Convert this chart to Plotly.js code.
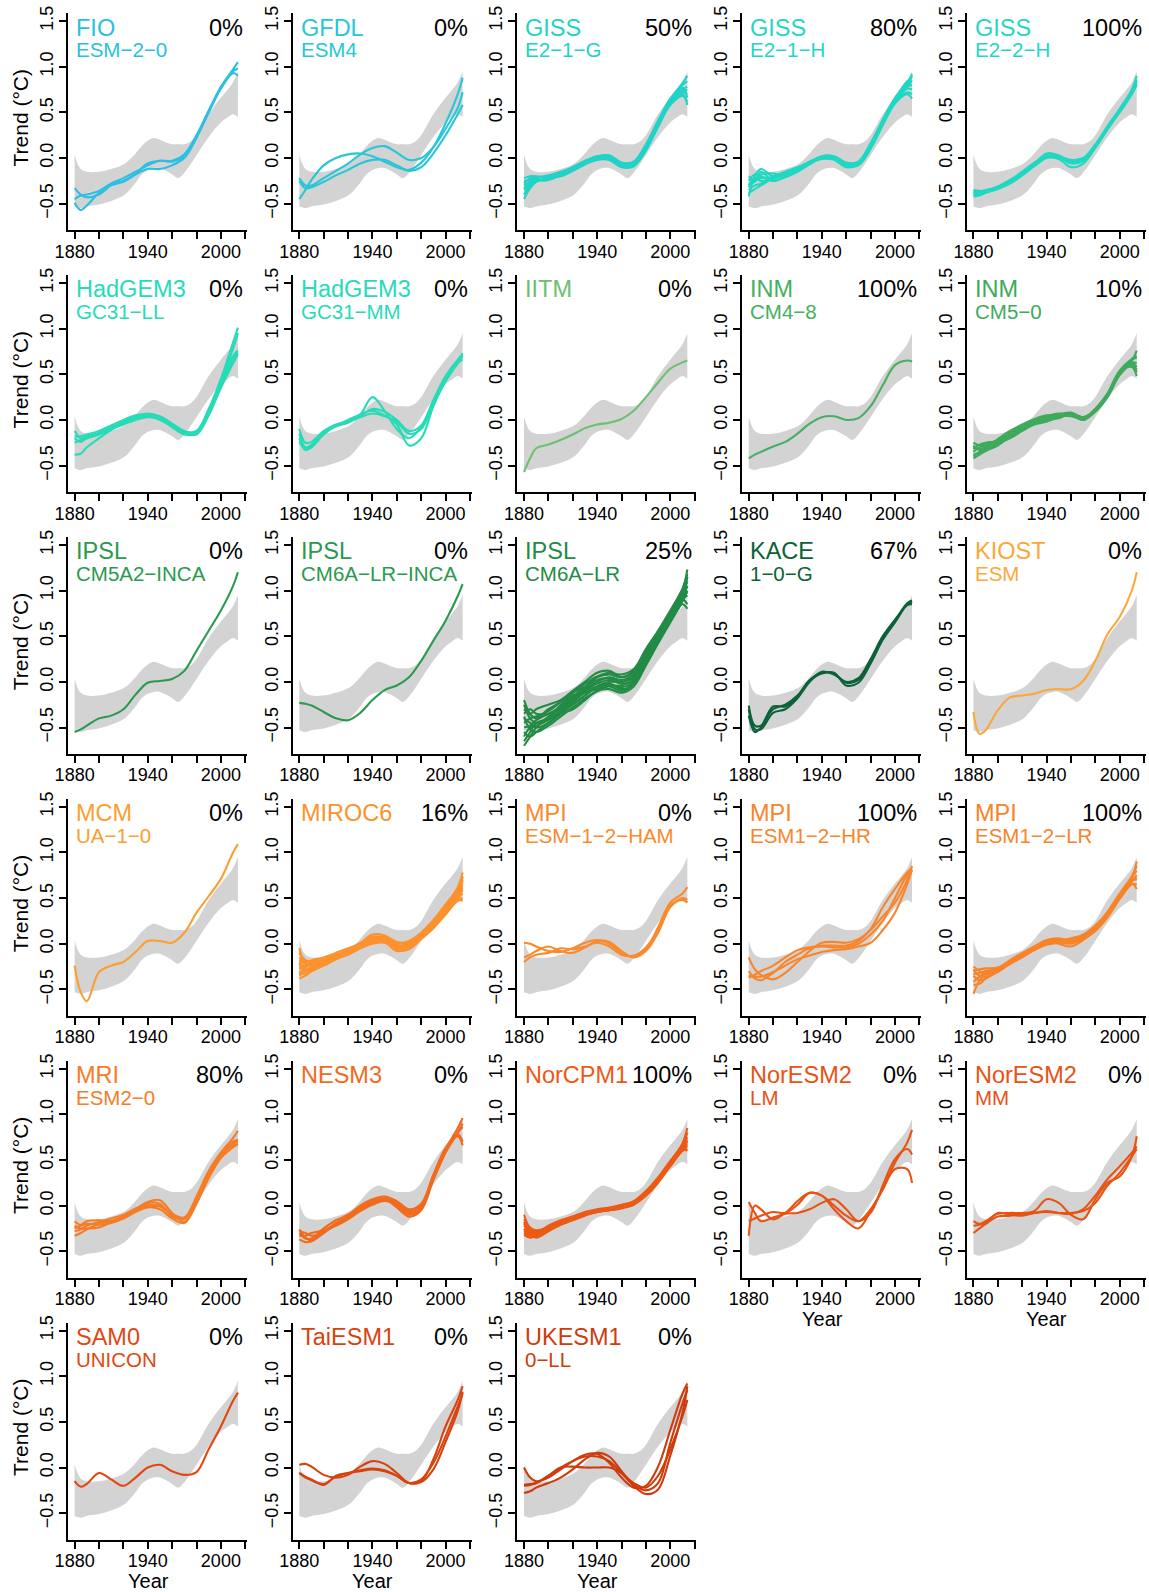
<!DOCTYPE html>
<html>
<head>
<meta charset="utf-8">
<script src="https://cdn.plot.ly/plotly-3.0.1.min.js"></script>
<style>
html,body{margin:0;padding:0;background:#fff;}
#chart{width:1149px;height:1592px;}
</style>
</head>
<body>
<div id="chart"></div>
<script>
// ---------------- DATA ----------------
const years = [1880,1885,1890,1900,1910,1920,1930,1940,1950,1960,1970,1980,1990,2000,2010,2014];

// observational range (grey band)
const bandYears = [1880,1882,1885,1890,1900,1910,1920,1925,1930,1935,1940,1945,1950,1955,1960,1965,1970,1975,1980,1990,2000,2005,2010,2014];
const bandUpper = [0.04,-0.05,-0.12,-0.15,-0.15,-0.12,-0.07,-0.02,0.05,0.13,0.19,0.22,0.20,0.17,0.15,0.15,0.15,0.18,0.25,0.48,0.66,0.74,0.83,0.95];
const bandLower = [-0.53,-0.54,-0.55,-0.53,-0.51,-0.47,-0.41,-0.35,-0.27,-0.18,-0.13,-0.11,-0.11,-0.14,-0.18,-0.22,-0.16,-0.07,0.03,0.23,0.39,0.44,0.48,0.45];

const modelNames = ["FIO","GFDL","GISS","GISS","GISS","HadGEM3","HadGEM3","IITM","INM","INM",
  "IPSL","IPSL","IPSL","KACE","KIOST","MCM","MIROC6","MPI","MPI","MPI",
  "MRI","NESM3","NorCPM1","NorESM2","NorESM2","SAM0","TaiESM1","UKESM1"];
const modelSubs = ["ESM\u22122\u22120","ESM4","E2\u22121\u2212G","E2\u22121\u2212H","E2\u22122\u2212H","GC31\u2212LL","GC31\u2212MM","","CM4\u22128","CM5\u22120",
  "CM5A2\u2212INCA","CM6A\u2212LR\u2212INCA","CM6A\u2212LR","1\u22120\u2212G","ESM","UA\u22121\u22120","","ESM\u22121\u22122\u2212HAM","ESM1\u22122\u2212HR","ESM1\u22122\u2212LR",
  "ESM2\u22120","","","LM","MM","UNICON","","0\u2212LL"];
const modelPct = ["0%","0%","50%","80%","100%","0%","0%","0%","100%","10%",
  "0%","0%","25%","67%","0%","0%","16%","0%","100%","100%",
  "80%","0%","100%","0%","0%","0%","0%","0%"];

const fioEsm20 = [
  [-0.49,-0.57,-0.52,-0.38,-0.28,-0.22,-0.15,-0.08,-0.03,-0.03,0.04,0.25,0.52,0.78,0.97,1.05],
  [-0.33,-0.40,-0.43,-0.40,-0.30,-0.26,-0.18,-0.12,-0.12,-0.08,0.00,0.22,0.50,0.76,0.93,0.90],
  [-0.45,-0.41,-0.40,-0.36,-0.28,-0.25,-0.17,-0.06,-0.03,-0.04,0.02,0.24,0.50,0.77,0.95,0.98]];
const gfdlEsm4 = [
  [-0.45,-0.35,-0.24,-0.08,0.00,0.04,0.05,0.02,-0.04,-0.10,-0.13,-0.05,0.12,0.38,0.70,0.88],
  [-0.22,-0.30,-0.30,-0.22,-0.14,-0.06,0.04,0.11,0.13,0.06,-0.02,0.00,0.12,0.32,0.55,0.72],
  [-0.25,-0.33,-0.32,-0.26,-0.19,-0.13,-0.06,-0.02,-0.02,-0.08,-0.14,-0.10,0.05,0.25,0.48,0.58]];
const gissE21G = [
  [-0.22,-0.20,-0.20,-0.22,-0.19,-0.13,-0.05,0.01,0.00,-0.07,-0.05,0.14,0.40,0.64,0.82,0.90],
  [-0.45,-0.33,-0.26,-0.22,-0.18,-0.12,-0.06,0.00,-0.01,-0.08,-0.07,0.10,0.36,0.60,0.75,0.78],
  [-0.30,-0.26,-0.24,-0.24,-0.17,-0.10,-0.03,0.02,0.01,-0.06,-0.08,0.12,0.38,0.62,0.72,0.70],
  [-0.35,-0.28,-0.23,-0.20,-0.20,-0.14,-0.07,-0.02,-0.02,-0.09,-0.06,0.13,0.37,0.60,0.70,0.58],
  [-0.25,-0.24,-0.21,-0.21,-0.16,-0.11,-0.04,0.02,0.03,-0.05,-0.04,0.15,0.41,0.65,0.80,0.84],
  [-0.40,-0.30,-0.25,-0.23,-0.18,-0.12,-0.05,0.00,-0.02,-0.10,-0.09,0.08,0.34,0.58,0.68,0.62],
  [-0.28,-0.22,-0.21,-0.19,-0.15,-0.10,-0.04,0.01,0.00,-0.06,-0.05,0.11,0.37,0.63,0.74,0.74],
  [-0.33,-0.27,-0.25,-0.24,-0.19,-0.13,-0.06,-0.01,-0.01,-0.07,-0.07,0.11,0.39,0.61,0.77,0.66]];
const gissE21H = [
  [-0.42,-0.20,-0.12,-0.20,-0.17,-0.12,-0.05,0.00,0.00,-0.08,-0.05,0.15,0.40,0.63,0.80,0.90],
  [-0.20,-0.25,-0.15,-0.25,-0.20,-0.14,-0.06,0.01,-0.01,-0.09,-0.06,0.13,0.38,0.62,0.78,0.85],
  [-0.35,-0.30,-0.28,-0.20,-0.15,-0.10,-0.04,0.02,0.01,-0.07,-0.04,0.16,0.42,0.66,0.82,0.92],
  [-0.30,-0.22,-0.25,-0.23,-0.18,-0.13,-0.05,-0.01,-0.02,-0.10,-0.07,0.12,0.37,0.60,0.72,0.70],
  [-0.25,-0.18,-0.20,-0.25,-0.21,-0.15,-0.07,0.00,0.01,-0.06,-0.05,0.14,0.40,0.64,0.78,0.80],
  [-0.38,-0.34,-0.30,-0.22,-0.16,-0.11,-0.05,0.01,0.00,-0.08,-0.08,0.10,0.36,0.60,0.70,0.65],
  [-0.28,-0.26,-0.18,-0.17,-0.19,-0.14,-0.06,0.02,0.02,-0.05,-0.04,0.16,0.41,0.65,0.84,0.88],
  [-0.32,-0.24,-0.22,-0.21,-0.17,-0.12,-0.04,0.01,-0.01,-0.09,-0.06,0.13,0.39,0.62,0.76,0.75]];
const gissE22H = [
  [-0.37,-0.37,-0.35,-0.32,-0.27,-0.18,-0.08,0.01,0.00,-0.03,-0.01,0.13,0.33,0.52,0.74,0.86],
  [-0.40,-0.40,-0.38,-0.33,-0.25,-0.17,-0.06,0.04,0.02,-0.02,0.00,0.15,0.35,0.54,0.75,0.90],
  [-0.35,-0.36,-0.36,-0.31,-0.24,-0.15,-0.05,0.02,0.01,-0.06,-0.03,0.12,0.32,0.50,0.70,0.80],
  [-0.42,-0.41,-0.38,-0.34,-0.28,-0.19,-0.09,0.00,-0.01,-0.10,-0.06,0.11,0.31,0.51,0.72,0.84],
  [-0.38,-0.38,-0.36,-0.32,-0.26,-0.17,-0.07,0.05,0.03,-0.04,-0.02,0.14,0.34,0.53,0.73,0.82]];
const hadgemLL = [
  [-0.12,-0.20,-0.18,-0.14,-0.08,-0.02,0.03,0.05,0.02,-0.06,-0.13,-0.12,0.12,0.45,0.85,1.01],
  [-0.20,-0.24,-0.20,-0.15,-0.09,-0.03,0.04,0.07,0.04,-0.04,-0.12,-0.14,0.08,0.40,0.70,0.76],
  [-0.38,-0.37,-0.30,-0.20,-0.11,-0.04,0.02,0.04,0.00,-0.07,-0.15,-0.16,0.05,0.35,0.62,0.72],
  [-0.25,-0.22,-0.20,-0.16,-0.10,-0.05,0.00,0.03,0.01,-0.08,-0.16,-0.15,0.06,0.38,0.66,0.74],
  [-0.18,-0.18,-0.16,-0.12,-0.06,0.00,0.05,0.06,0.03,-0.05,-0.14,-0.13,0.10,0.42,0.78,0.95]];
const hadgemMM = [
  [-0.15,-0.30,-0.27,-0.15,-0.07,-0.02,0.06,0.25,0.10,-0.10,-0.20,-0.08,0.20,0.46,0.65,0.73],
  [-0.20,-0.33,-0.30,-0.16,-0.06,0.00,0.06,0.10,0.05,-0.05,-0.28,-0.20,0.15,0.42,0.62,0.70],
  [-0.10,-0.25,-0.24,-0.12,-0.05,-0.02,0.03,0.07,0.04,-0.02,-0.15,-0.10,0.18,0.45,0.63,0.66],
  [-0.24,-0.32,-0.28,-0.14,-0.07,-0.03,0.04,0.12,0.09,0.00,-0.12,-0.06,0.22,0.48,0.66,0.72]];
const iitm = [
  [-0.57,-0.42,-0.31,-0.27,-0.22,-0.16,-0.09,-0.05,-0.03,0.01,0.10,0.25,0.41,0.56,0.63,0.65]];
const inmCM48 = [
  [-0.42,-0.38,-0.35,-0.29,-0.24,-0.15,-0.04,0.03,0.04,0.00,0.02,0.15,0.38,0.60,0.65,0.64]];
const inmCM50 = [
  [-0.25,-0.28,-0.27,-0.22,-0.15,-0.08,-0.02,0.02,0.05,0.07,0.02,0.12,0.28,0.52,0.65,0.76],
  [-0.42,-0.38,-0.34,-0.28,-0.18,-0.10,-0.03,0.00,0.04,0.06,0.01,0.10,0.26,0.50,0.62,0.58],
  [-0.30,-0.32,-0.30,-0.24,-0.14,-0.06,0.00,0.03,0.06,0.08,0.03,0.11,0.27,0.52,0.60,0.52],
  [-0.35,-0.30,-0.28,-0.25,-0.20,-0.12,-0.05,-0.02,0.03,0.05,0.00,0.09,0.25,0.50,0.66,0.68],
  [-0.28,-0.33,-0.32,-0.26,-0.17,-0.09,-0.01,0.04,0.07,0.06,0.01,0.12,0.29,0.53,0.58,0.48],
  [-0.38,-0.36,-0.31,-0.21,-0.12,-0.05,0.01,0.05,0.05,0.04,0.02,0.11,0.27,0.51,0.63,0.62],
  [-0.32,-0.27,-0.25,-0.23,-0.16,-0.11,-0.04,0.00,0.02,0.07,0.03,0.10,0.28,0.54,0.67,0.70],
  [-0.40,-0.35,-0.33,-0.27,-0.19,-0.10,-0.02,0.01,0.06,0.05,0.00,0.11,0.26,0.49,0.61,0.55]];
const ipslCM5A2 = [
  [-0.55,-0.52,-0.48,-0.40,-0.37,-0.30,-0.14,-0.01,0.01,0.03,0.12,0.34,0.56,0.78,1.05,1.20]];
const ipslCM6AINCA = [
  [-0.23,-0.24,-0.26,-0.33,-0.40,-0.42,-0.34,-0.20,-0.09,-0.04,0.05,0.23,0.45,0.67,0.94,1.07]];
const ipslCM6A = [
  [-0.20,-0.35,-0.40,-0.30,-0.22,-0.12,-0.05,0.05,0.08,0.05,0.12,0.35,0.55,0.75,1.00,1.23],
  [-0.65,-0.55,-0.45,-0.40,-0.32,-0.22,-0.12,-0.08,-0.05,-0.10,-0.02,0.20,0.45,0.68,0.92,1.05],
  [-0.40,-0.45,-0.50,-0.45,-0.35,-0.25,-0.15,-0.05,0.00,0.00,0.05,0.28,0.50,0.72,0.95,1.10],
  [-0.30,-0.35,-0.30,-0.25,-0.20,-0.10,0.00,0.10,0.12,0.05,0.10,0.30,0.52,0.72,0.90,0.95],
  [-0.55,-0.60,-0.55,-0.45,-0.35,-0.30,-0.20,-0.10,-0.08,-0.12,-0.05,0.18,0.42,0.65,0.88,1.00],
  [-0.70,-0.60,-0.50,-0.38,-0.30,-0.20,-0.10,-0.02,0.02,-0.02,0.02,0.25,0.48,0.70,0.95,1.15],
  [-0.35,-0.30,-0.35,-0.35,-0.28,-0.18,-0.08,0.00,0.05,0.02,0.08,0.32,0.55,0.76,0.98,1.15],
  [-0.50,-0.48,-0.42,-0.35,-0.27,-0.16,-0.06,0.02,0.04,0.00,0.06,0.27,0.50,0.72,0.93,1.05],
  [-0.25,-0.40,-0.45,-0.40,-0.25,-0.15,-0.10,-0.05,-0.02,-0.08,-0.02,0.22,0.47,0.70,0.90,0.85],
  [-0.60,-0.50,-0.48,-0.42,-0.33,-0.24,-0.15,-0.06,-0.03,-0.06,0.00,0.24,0.46,0.68,0.85,0.80],
  [-0.45,-0.40,-0.38,-0.32,-0.22,-0.12,-0.02,0.06,0.10,0.08,0.14,0.36,0.56,0.78,1.02,1.18],
  [-0.38,-0.52,-0.55,-0.48,-0.38,-0.28,-0.18,-0.10,-0.04,-0.04,0.03,0.26,0.50,0.70,0.92,0.98]];
const kace = [
  [-0.26,-0.48,-0.48,-0.27,-0.27,-0.16,0.02,0.10,0.09,-0.01,0.02,0.23,0.49,0.67,0.86,0.89],
  [-0.30,-0.52,-0.52,-0.34,-0.30,-0.18,0.00,0.11,0.08,0.00,0.04,0.25,0.50,0.68,0.85,0.88],
  [-0.37,-0.55,-0.50,-0.30,-0.25,-0.15,0.01,0.09,0.10,-0.04,-0.01,0.20,0.46,0.65,0.84,0.85]];
const kiost = [
  [-0.33,-0.57,-0.53,-0.31,-0.17,-0.15,-0.13,-0.09,-0.08,-0.08,0.01,0.23,0.52,0.71,1.00,1.20]];
const mcm = [
  [-0.24,-0.53,-0.63,-0.31,-0.24,-0.20,-0.09,0.03,0.03,0.01,0.12,0.34,0.52,0.71,1.00,1.09]];
const miroc6 = [
  [-0.05,-0.22,-0.20,-0.17,-0.12,-0.07,0.00,0.08,0.06,0.00,0.03,0.12,0.25,0.42,0.62,0.78],
  [-0.35,-0.30,-0.25,-0.20,-0.14,-0.08,-0.02,0.03,0.03,-0.04,-0.03,0.08,0.20,0.36,0.52,0.60],
  [-0.20,-0.25,-0.22,-0.19,-0.15,-0.10,-0.03,0.05,0.07,-0.02,-0.01,0.10,0.22,0.38,0.55,0.65],
  [-0.30,-0.33,-0.30,-0.24,-0.17,-0.11,-0.04,0.01,0.02,-0.08,-0.05,0.06,0.18,0.33,0.48,0.50],
  [-0.15,-0.20,-0.18,-0.15,-0.10,-0.05,0.01,0.10,0.09,0.02,0.02,0.11,0.24,0.40,0.58,0.70],
  [-0.25,-0.28,-0.27,-0.22,-0.16,-0.09,-0.02,0.04,0.05,-0.05,-0.04,0.07,0.19,0.35,0.50,0.55],
  [-0.38,-0.35,-0.30,-0.23,-0.15,-0.09,-0.03,0.02,0.03,-0.06,-0.02,0.09,0.21,0.37,0.54,0.62],
  [-0.10,-0.18,-0.20,-0.18,-0.13,-0.08,-0.01,0.06,0.08,0.01,0.01,0.12,0.26,0.43,0.60,0.72],
  [-0.28,-0.24,-0.23,-0.21,-0.16,-0.12,-0.05,0.00,0.01,-0.07,-0.06,0.05,0.17,0.32,0.47,0.48],
  [-0.22,-0.30,-0.28,-0.20,-0.13,-0.07,0.00,0.07,0.04,-0.03,0.00,0.10,0.23,0.39,0.57,0.68],
  [-0.33,-0.26,-0.22,-0.18,-0.14,-0.10,-0.04,0.03,0.02,-0.05,-0.04,0.08,0.21,0.36,0.53,0.58],
  [-0.18,-0.22,-0.24,-0.22,-0.17,-0.10,-0.02,0.05,0.06,-0.01,-0.03,0.09,0.22,0.38,0.56,0.74]];
const mpiHAM = [
  [0.01,0.00,-0.03,-0.08,-0.09,-0.05,0.01,0.04,0.00,-0.10,-0.14,-0.06,0.18,0.45,0.55,0.62],
  [-0.15,-0.12,-0.08,-0.03,-0.08,-0.10,-0.04,0.03,0.02,-0.08,-0.15,-0.08,0.12,0.40,0.50,0.48],
  [-0.20,-0.15,-0.12,-0.10,-0.05,-0.06,-0.03,0.01,-0.03,-0.12,-0.13,-0.04,0.15,0.42,0.48,0.45]];
const mpiHR = [
  [-0.15,-0.28,-0.34,-0.39,-0.32,-0.20,-0.08,0.01,0.02,0.01,0.05,0.15,0.30,0.45,0.70,0.85],
  [-0.35,-0.36,-0.36,-0.31,-0.24,-0.17,-0.13,-0.09,-0.07,-0.06,-0.03,0.01,0.15,0.34,0.65,0.81],
  [-0.37,-0.34,-0.30,-0.24,-0.15,-0.07,-0.04,-0.02,-0.02,-0.02,0.03,0.16,0.40,0.60,0.78,0.83],
  [-0.30,-0.38,-0.40,-0.32,-0.20,-0.12,-0.05,-0.03,-0.04,-0.04,0.00,0.10,0.25,0.50,0.75,0.80]];
const mpiLR = [
  [-0.25,-0.30,-0.33,-0.30,-0.22,-0.14,-0.05,0.02,0.05,0.04,0.08,0.18,0.32,0.52,0.72,0.90],
  [-0.55,-0.40,-0.33,-0.28,-0.20,-0.12,-0.04,0.00,0.02,0.00,0.06,0.16,0.30,0.50,0.68,0.75],
  [-0.35,-0.40,-0.38,-0.30,-0.21,-0.13,-0.06,0.01,0.03,0.06,0.10,0.20,0.34,0.53,0.70,0.70],
  [-0.30,-0.28,-0.27,-0.26,-0.19,-0.11,-0.03,0.03,0.00,-0.03,0.04,0.15,0.30,0.50,0.66,0.60],
  [-0.42,-0.36,-0.32,-0.27,-0.18,-0.10,-0.03,0.04,0.06,0.03,0.07,0.17,0.33,0.54,0.74,0.85],
  [-0.28,-0.35,-0.36,-0.31,-0.22,-0.15,-0.07,-0.01,0.01,0.02,0.05,0.14,0.29,0.49,0.65,0.65],
  [-0.45,-0.44,-0.38,-0.29,-0.20,-0.12,-0.05,0.02,0.04,0.05,0.09,0.19,0.35,0.55,0.73,0.80],
  [-0.33,-0.32,-0.30,-0.27,-0.21,-0.14,-0.06,0.00,0.03,0.01,0.06,0.16,0.31,0.51,0.69,0.72]];
const mriEsm20 = [
  [-0.17,-0.21,-0.17,-0.16,-0.17,-0.12,-0.05,0.03,0.02,-0.12,-0.14,0.10,0.38,0.58,0.74,0.82],
  [-0.33,-0.30,-0.26,-0.20,-0.17,-0.12,-0.05,-0.01,-0.01,-0.10,-0.15,0.06,0.35,0.55,0.68,0.70],
  [-0.22,-0.25,-0.25,-0.24,-0.18,-0.12,-0.04,0.04,0.06,-0.08,-0.18,0.04,0.32,0.54,0.66,0.66],
  [-0.25,-0.22,-0.20,-0.21,-0.19,-0.14,-0.07,-0.02,-0.04,-0.14,-0.19,0.02,0.30,0.52,0.64,0.68],
  [-0.28,-0.26,-0.22,-0.18,-0.14,-0.10,-0.03,0.01,0.00,-0.09,-0.13,0.08,0.36,0.57,0.70,0.72]];
const nesm3 = [
  [-0.26,-0.35,-0.38,-0.28,-0.20,-0.12,-0.02,0.05,0.08,0.03,-0.06,0.00,0.33,0.62,0.85,0.96],
  [-0.37,-0.40,-0.39,-0.30,-0.21,-0.14,-0.04,0.03,0.06,0.00,-0.10,-0.03,0.30,0.60,0.80,0.86],
  [-0.30,-0.36,-0.36,-0.25,-0.16,-0.10,0.00,0.07,0.10,0.05,-0.04,0.02,0.34,0.63,0.78,0.70],
  [-0.33,-0.33,-0.30,-0.27,-0.22,-0.15,-0.06,0.01,0.05,0.02,-0.08,-0.02,0.31,0.60,0.76,0.66],
  [-0.28,-0.30,-0.33,-0.29,-0.19,-0.11,-0.03,0.04,0.07,-0.02,-0.12,-0.05,0.28,0.58,0.80,0.90]];
const norCPM1 = [
  [-0.10,-0.25,-0.28,-0.23,-0.18,-0.13,-0.08,-0.05,-0.03,0.00,0.04,0.15,0.30,0.48,0.68,0.85],
  [-0.25,-0.30,-0.32,-0.25,-0.19,-0.14,-0.09,-0.06,-0.04,-0.01,0.03,0.13,0.28,0.45,0.63,0.70],
  [-0.30,-0.33,-0.34,-0.27,-0.20,-0.15,-0.10,-0.07,-0.05,-0.03,0.01,0.11,0.26,0.43,0.60,0.62],
  [-0.18,-0.28,-0.30,-0.24,-0.17,-0.12,-0.07,-0.04,-0.02,0.01,0.05,0.16,0.31,0.49,0.66,0.75],
  [-0.22,-0.27,-0.29,-0.26,-0.21,-0.15,-0.09,-0.05,-0.03,-0.02,0.02,0.12,0.27,0.44,0.61,0.66],
  [-0.28,-0.31,-0.31,-0.22,-0.16,-0.12,-0.08,-0.06,-0.05,-0.02,0.03,0.14,0.29,0.47,0.64,0.72],
  [-0.15,-0.24,-0.27,-0.24,-0.19,-0.14,-0.10,-0.07,-0.04,0.00,0.04,0.14,0.30,0.46,0.62,0.60],
  [-0.32,-0.35,-0.33,-0.26,-0.20,-0.13,-0.08,-0.05,-0.03,-0.01,0.02,0.12,0.27,0.45,0.65,0.80],
  [-0.20,-0.29,-0.31,-0.25,-0.18,-0.13,-0.09,-0.05,-0.04,0.00,0.03,0.13,0.28,0.46,0.63,0.68],
  [-0.26,-0.32,-0.35,-0.28,-0.21,-0.16,-0.11,-0.07,-0.05,-0.02,0.02,0.11,0.25,0.44,0.62,0.65]];
const norESM2LM = [
  [0.04,-0.08,-0.17,-0.13,-0.08,0.05,0.14,0.11,-0.04,-0.17,-0.25,-0.06,0.18,0.40,0.40,0.25],
  [-0.33,0.00,-0.04,-0.15,-0.09,-0.08,-0.04,0.03,0.07,-0.04,-0.17,-0.08,0.22,0.51,0.62,0.56],
  [-0.17,-0.14,-0.11,-0.07,-0.08,0.01,0.14,0.11,0.00,-0.11,-0.17,-0.04,0.18,0.47,0.69,0.83]];
const norESM2MM = [
  [-0.17,-0.20,-0.17,-0.09,-0.08,-0.08,-0.06,0.07,0.03,-0.10,-0.15,0.07,0.25,0.32,0.54,0.76],
  [-0.30,-0.25,-0.20,-0.12,-0.11,-0.09,-0.08,-0.06,-0.08,-0.09,-0.04,0.11,0.29,0.43,0.58,0.65],
  [-0.22,-0.21,-0.19,-0.08,-0.10,-0.11,-0.08,-0.07,-0.08,-0.08,-0.06,0.03,0.22,0.36,0.54,0.62]];
const sam0 = [
  [-0.15,-0.21,-0.18,-0.06,-0.13,-0.20,-0.11,0.00,0.03,-0.04,-0.08,-0.05,0.20,0.45,0.73,0.82]];
const taiESM1 = [
  [0.03,0.04,0.01,-0.08,-0.11,-0.08,0.01,0.07,0.04,-0.06,-0.17,-0.15,0.09,0.45,0.74,0.89],
  [-0.06,-0.10,-0.13,-0.19,-0.09,-0.06,-0.04,-0.02,-0.04,-0.09,-0.17,-0.13,0.05,0.34,0.67,0.81],
  [-0.06,-0.11,-0.14,-0.18,-0.10,-0.06,-0.03,-0.01,-0.03,-0.09,-0.17,-0.16,-0.02,0.28,0.62,0.83]];
const ukesm1 = [
  [0.00,-0.11,-0.15,-0.11,-0.02,0.07,0.14,0.15,0.05,-0.11,-0.22,-0.20,0.01,0.41,0.81,0.92],
  [-0.19,-0.18,-0.17,-0.09,0.00,0.01,0.00,0.00,0.00,-0.06,-0.17,-0.22,-0.09,0.20,0.56,0.74],
  [-0.28,-0.26,-0.22,-0.17,-0.11,-0.02,0.09,0.16,0.12,-0.04,-0.20,-0.29,-0.24,0.13,0.60,0.89],
  [-0.20,-0.19,-0.17,-0.09,0.00,0.07,0.12,0.12,0.07,-0.06,-0.19,-0.25,-0.17,0.27,0.70,0.85]];

const modelRuns = [fioEsm20,gfdlEsm4,gissE21G,gissE21H,gissE22H,hadgemLL,hadgemMM,iitm,inmCM48,inmCM50,
  ipslCM5A2,ipslCM6AINCA,ipslCM6A,kace,kiost,mcm,miroc6,mpiHAM,mpiHR,mpiLR,
  mriEsm20,nesm3,norCPM1,norESM2LM,norESM2MM,sam0,taiESM1,ukesm1];

// ---------------- STYLE ----------------
const modelColors = ["#2BBFE3","#27C6D8","#20D3C6","#1FD8C2","#1FD8C2","#27DBB8","#27DBB8","#6CC070","#45B060","#3EAA5C",
  "#2A9A4E","#2A9A4E","#228B45","#0B6238","#FBA83A","#FBA030","#FC922E","#FA8A2A","#F9852A","#F98328",
  "#F67C25","#F26A1C","#EC5A14","#E85212","#E85212","#E0480F","#D8420E","#D03B0C"];

const W = 1149, H = 1592;
const colStep = 224.7, rowStep = 261.9;
const plotL = 68, plotR = 247, plotT = 13, plotB = 230;
const FONT = "Liberation Sans, Arial, Helvetica, sans-serif";

const traces = [];
const layout = {
  width: W, height: H,
  margin: {l:0, r:0, t:0, b:0},
  paper_bgcolor: "#ffffff", plot_bgcolor: "rgba(0,0,0,0)",
  showlegend: false,
  font: {family: FONT, color: "#000"},
  annotations: []
};
const px = v => v / W;
const py = v => 1 - v / H;

modelRuns.forEach((runs, i) => {
  const r = Math.floor(i / 5), c = i % 5;
  const ox = colStep * c, oy = rowStep * r;
  const xa = i === 0 ? "x" : "x" + (i + 1);
  const ya = i === 0 ? "y" : "y" + (i + 1);
  const xk = i === 0 ? "xaxis" : "xaxis" + (i + 1);
  const yk = i === 0 ? "yaxis" : "yaxis" + (i + 1);

  layout[xk] = {
    domain: [px(plotL + ox), px(plotR + ox)],
    anchor: ya, range: [1874.56, 2021.44],
    tickmode: "array",
    tickvals: [1880,1900,1920,1940,1960,1980,2000,2020],
    ticktext: ["1880","","","1940","","","2000",""],
    ticks: "outside", ticklen: 7, tickwidth: 2, tickcolor: "#000",
    ticklabelstandoff: -3,
    showline: true, linewidth: 2, linecolor: "#000",
    showgrid: false, zeroline: false, fixedrange: true,
    tickfont: {family: FONT, size: 18, color: "#000"}
  };
  layout[yk] = {
    domain: [py(plotB + oy), py(plotT + oy)],
    anchor: xa, range: [-0.788, 1.588],
    tickmode: "array",
    tickvals: [-0.5, 0, 0.5, 1, 1.5],
    ticktext: ["\u22120.5","0.0","0.5","1.0","1.5"],
    tickangle: -90,
    ticks: "outside", ticklen: 7, tickwidth: 2, tickcolor: "#000",
    ticklabelstandoff: -1,
    showline: true, linewidth: 2, linecolor: "#000",
    showgrid: false, zeroline: false, fixedrange: true,
    tickfont: {family: FONT, size: 18, color: "#000"}
  };

  traces.push({x: bandYears, y: bandLower, xaxis: xa, yaxis: ya, type: "scatter", mode: "lines",
    line: {width: 0, shape: "spline", color: "#d3d3d3"}, hoverinfo: "skip"});
  traces.push({x: bandYears, y: bandUpper, xaxis: xa, yaxis: ya, type: "scatter", mode: "lines",
    fill: "tonexty", fillcolor: "#d3d3d3",
    line: {width: 0, shape: "spline", color: "#d3d3d3"}, hoverinfo: "skip"});
  runs.forEach(vals => {
    traces.push({x: years, y: vals, xaxis: xa, yaxis: ya, type: "scatter", mode: "lines",
      line: {width: 2.1, shape: "spline", color: modelColors[i]}, hoverinfo: "skip"});
  });

  layout.annotations.push({xref: "paper", yref: "paper", x: px(plotL + ox + 6), y: py(27.5 + oy),
    xanchor: "left", yanchor: "middle", showarrow: false, text: modelNames[i],
    font: {family: FONT, size: 23.5, color: modelColors[i]}});
  if (modelSubs[i]) {
    layout.annotations.push({xref: "paper", yref: "paper", x: px(plotL + ox + 6), y: py(50 + oy),
      xanchor: "left", yanchor: "middle", showarrow: false, text: modelSubs[i],
      font: {family: FONT, size: 20.5, color: modelColors[i]}});
  }
  layout.annotations.push({xref: "paper", yref: "paper", x: px(plotR + ox - 2), y: py(27.5 + oy),
    xanchor: "right", yanchor: "middle", showarrow: false, text: modelPct[i],
    font: {family: FONT, size: 23.5, color: "#000"}});
  if (c === 0) {
    layout.annotations.push({xref: "paper", yref: "paper", x: px(20), y: py((plotT + plotB) / 2 - 3 + oy),
      xanchor: "center", yanchor: "middle", showarrow: false, text: "Trend (\u00B0C)", textangle: -90,
      font: {family: FONT, size: 21, color: "#000"}});
  }
  if (r === 5 || (r === 4 && c >= 3)) {
    layout.annotations.push({xref: "paper", yref: "paper", x: px(plotL + ox + 80), y: py(plotB + oy + 41),
      xanchor: "center", yanchor: "middle", showarrow: false, text: "Year",
      font: {family: FONT, size: 20, color: "#000"}});
  }
});

Plotly.newPlot("chart", traces, layout, {displayModeBar: false, staticPlot: true});
</script>
</body>
</html>
